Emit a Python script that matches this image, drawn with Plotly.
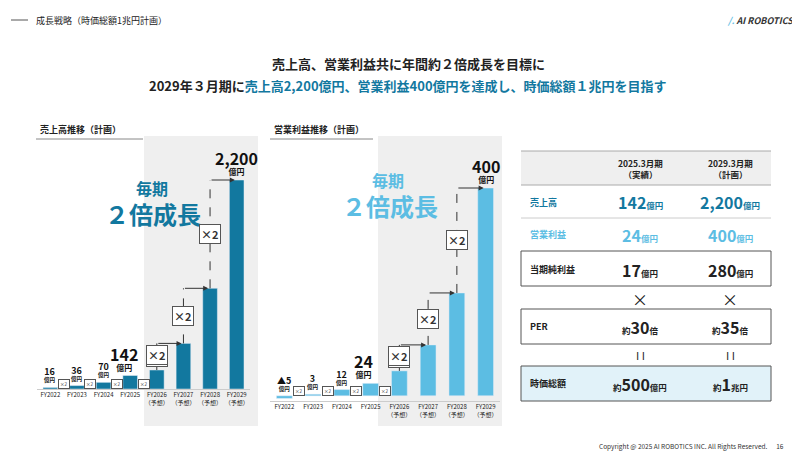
import plotly.graph_objects as go

years = ["FY2022","FY2023","FY2024","FY2025","FY2026","FY2027","FY2028","FY2029"]
tick_text = ["FY2022","FY2023","FY2024","FY2025","FY2026<br>（予想）","FY2027<br>（予想）","FY2028<br>（予想）","FY2029<br>（予想）"]
sales = [16, 36, 70, 142, 200, 480, 1060, 2200]
opinc = [-5, 3, 12, 24, 48, 98, 198, 400]
sales_lbl = {0:"16", 1:"36", 2:"70", 3:"142", 7:"2,200"}
op_lbl = {0:"▲5", 1:"3", 2:"12", 3:"24", 7:"400"}

F = "Noto Sans CJK JP"
C1 = "#12789f"
C2 = "#5cbde3"
W, H = 800, 452
px = lambda x: x / W
py = lambda y: 1 - y / H

fig = go.Figure()
fig.add_trace(go.Bar(x=list(range(8)), y=sales, marker_color=C1, width=0.55, xaxis="x", yaxis="y"))
fig.add_trace(go.Bar(x=list(range(8)), y=opinc, marker_color=C2, width=0.55, xaxis="x2", yaxis="y2"))

shapes, ann = [], []
def A(x, y, text, size=9, color="#222", xa="center", ya="middle", **kw):
    d = dict(x=px(x), y=py(y), xref="paper", yref="paper", text=text, showarrow=False,
             font=dict(family=F, size=size, color=color), xanchor=xa, yanchor=ya)
    d.update(kw); ann.append(d)
def R(x0, y0, x1, y1, fill=None, line=None, lw=1):
    shapes.append(dict(type="rect", xref="paper", yref="paper", x0=px(x0), y0=py(y0), x1=px(x1), y1=py(y1),
                       fillcolor=fill or "rgba(0,0,0,0)", line=dict(color=line or "rgba(0,0,0,0)", width=lw), layer="below"))
def L(x0, y0, x1, y1, color="#666", w=1, dash="solid"):
    shapes.append(dict(type="line", xref="paper", yref="paper", x0=px(x0), y0=py(y0), x1=px(x1), y1=py(y1),
                       line=dict(color=color, width=w, dash=dash)))

# header
L(3, 12, 20, 12, "#555", 1)
A(26, 12, "成長戦略（時価総額1兆円計画）", 9, xa="left")
A(788, 12, "<b><i><span style='color:#5cbde3'>/.</span> AI ROBOTICS</i></b>", 9, "#333", xa="right")
A(400, 55, "<b>売上高、営業利益共に年間約２倍成長を目標に</b>", 13)
A(400, 78, "<b>2029年３月期に<span style='color:#12789f'>売上高2,200億円、営業利益400億円を達成し、時価総額１兆円を目指す</span></b>", 13)
A(30, 122, "<b>売上高推移（計画）</b>", 9, xa="left")
L(28, 131, 135, 131, "#888")
A(264, 122, "<b>営業利益推移（計画）</b>", 9, xa="left")
L(262, 131, 365, 131, "#888")
A(778, 438, "Copyright @ 2025 AI ROBOTICS INC. All Rights Reserved.      16", 6.5, "#333", xa="right")

# grey panels
shapes.append(dict(type="rect", xref="paper", yref="paper", x0=px(136), x1=px(250), y0=py(128), y1=py(418),
                   fillcolor="#efefef", line=dict(width=0), layer="below"))
shapes.append(dict(type="rect", xref="paper", yref="paper", x0=px(370), x1=px(494), y0=py(128), y1=py(418),
                   fillcolor="#efefef", line=dict(width=0), layer="below"))
A(126, 180, "<b>毎期</b>", 16, C1, xa="left")
A(145, 206, "<b>２倍成長</b>", 24, C1)
A(362, 172, "<b>毎期</b>", 16, C2, xa="left")
A(382, 197, "<b>２倍成長</b>", 24, C2)

# value labels
for xa_, ya_, vals, lbls in [("x", "y", sales, sales_lbl), ("x2", "y2", opinc, op_lbl)]:
    for i, t in lbls.items():
        big = i >= 3
        s1, s2 = (16, 8) if big else (9, 5.5)
        ann.append(dict(x=i - (0.25 if i == 3 else 0), y=max(vals[i], 0), xref=xa_, yref=ya_,
                        text=f"<b><span style='font-size:{s1}px'>{t}</span></b><br><b>億円</b>",
                        showarrow=False, yanchor="bottom", yshift=1,
                        font=dict(family=F, size=s2, color="#111")))
    for i in range(4, 7):
        v0, v1 = max(vals[i], 0), vals[i + 1]
        shapes.append(dict(type="line", xref=xa_, yref=ya_, x0=i, x1=i, y0=v0, y1=v1,
                           line=dict(color="#333", width=1, dash="dash")))
        ann.append(dict(x=i + 0.93, y=v1, ax=i, ay=v1, xref=xa_, yref=ya_, axref=xa_, ayref=ya_, text="",
                        showarrow=True, arrowhead=2, arrowsize=1, arrowwidth=1, arrowcolor="#333"))
        ann.append(dict(x=i, y=(v0 + v1) / 2, xref=xa_, yref=ya_, text="<b>×2</b>", showarrow=False,
                        font=dict(family=F, size=11, color="#333"), bgcolor="white",
                        bordercolor="#555", borderwidth=1, borderpad=1))
    ann.append(dict(x=4, y=vals[4], xref=xa_, yref=ya_, text="<b>×2</b>", showarrow=False, yshift=15,
                    font=dict(family=F, size=11, color="#333"), bgcolor="white",
                    bordercolor="#555", borderwidth=1, borderpad=1))
    for i in range(4):
        ann.append(dict(x=i + 0.5, y=0, xref=xa_, yref=ya_, text="×2", showarrow=False, yshift=5,
                        font=dict(family=F, size=4.5, color="#333"), bgcolor="white",
                        bordercolor="#555", borderwidth=1, borderpad=1))

# table
x0, x1 = 513, 763
c1, c2 = 632, 722
R(x0, 143, x1, 177, "#efefef")
L(x0, 143, x1, 143, "#aaa"); L(x0, 177, x1, 177, "#aaa"); L(x0, 210, x1, 210, "#ccc")
A(c1, 160, "<b>2025.3月期<br>（実績）</b>", 8.5)
A(c2, 160, "<b>2029.3月期<br>（計画）</b>", 8.5)
A(520, 194, "<b>売上高</b>", 9, C1, xa="left")
A(c1, 194, "<b><span style='font-size:16px'>142</span>億円</b>", 8.5, C1)
A(c2, 194, "<b><span style='font-size:16px'>2,200</span>億円</b>", 8.5, C1)
A(520, 227, "<b>営業利益</b>", 9, C2, xa="left")
A(c1, 227, "<b><span style='font-size:16px'>24</span>億円</b>", 8.5, C2)
A(c2, 227, "<b><span style='font-size:16px'>400</span>億円</b>", 8.5, C2)
R(x0, 243, x1, 278, None, "#555")
A(520, 261, "<b>当期純利益</b>", 9, xa="left")
A(c1, 262, "<b><span style='font-size:16px'>17</span>億円</b>", 8.5)
A(c2, 262, "<b><span style='font-size:16px'>280</span>億円</b>", 8.5)
A(c1, 291, "×", 16); A(c2, 291, "×", 16)
R(x0, 301, x1, 336, None, "#555")
A(520, 318, "<b>PER</b>", 9, xa="left")
A(c1, 319, "<b>約<span style='font-size:16px'>30</span>倍</b>", 8.5)
A(c2, 319, "<b>約<span style='font-size:16px'>35</span>倍</b>", 8.5)
A(c1, 347, "I I", 11, "#222")
A(c2, 347, "I I", 11, "#222")
R(x0, 358, x1, 393, "#e1f2f9", "#555")
A(520, 375, "<b>時価総額</b>", 9, xa="left")
A(c1, 376, "<b>約<span style='font-size:16px'>500</span>億円</b>", 8.5)
A(c2, 376, "<b>約<span style='font-size:16px'>1</span>兆円</b>", 8.5)

ax_common = dict(tickmode="array", tickvals=list(range(8)), ticktext=tick_text, range=[-0.5, 7.5],
                 tickangle=0, tickfont=dict(family=F, size=6, color="#222"), showgrid=False, zeroline=False,
                 showline=True, linecolor="#ccc", ticks="", fixedrange=True)
fig.update_layout(
    width=W, height=H, margin=dict(l=0, r=0, t=0, b=0), showlegend=False,
    plot_bgcolor="rgba(0,0,0,0)", paper_bgcolor="white", bargap=0.3,
    xaxis=dict(domain=[px(29), px(242)], anchor="y", **ax_common),
    yaxis=dict(domain=[py(381), py(113)], range=[0, 2821], visible=False),
    xaxis2=dict(domain=[px(262), px(492)], anchor="y2", **ax_common),
    yaxis2=dict(domain=[py(393), py(113)], range=[-10, 529], visible=False),
    shapes=shapes, annotations=ann,
)
fig.write_html("out.html")
